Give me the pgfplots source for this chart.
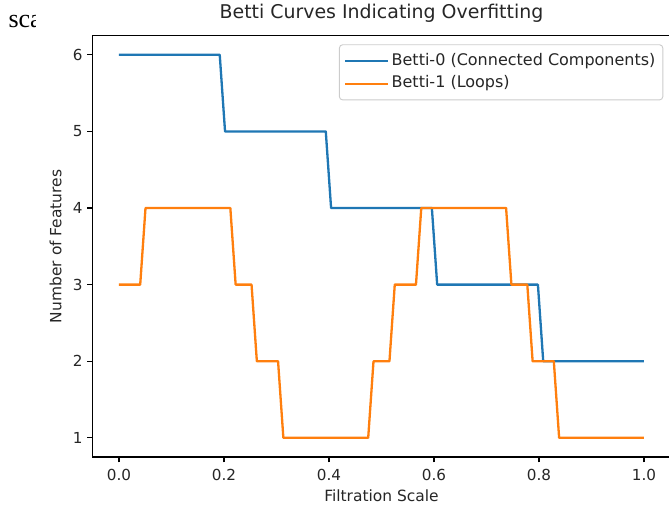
\documentclass[border=0pt]{standalone}
\usepackage{pgfplots}
\pgfplotsset{compat=1.18}
\usepackage{fontspec}
\setmainfont{DejaVu Sans}
\newfontfamily\timesfont{Liberation Serif}
\definecolor{mplblue}{HTML}{1F77B4}
\definecolor{mplorange}{HTML}{FF7F0E}
\definecolor{mpltext}{HTML}{262626}

\begin{document}
\begin{tikzpicture}
% leftover of a cropped caption in the top left corner
\begin{scope}
  \clip (0pt,340pt) rectangle (26.25pt,380.25pt);
  \node[anchor=base west, inner sep=0pt, font=\timesfont\fontsize{19.5}{23}\selectfont] at (6.2pt,359.8pt) {sca};
\end{scope}

\begin{axis}[
    at={(69.56pt,37.5pt)}, anchor=south west,
    scale only axis,
    width=433.1pt, height=316pt,
    xmin=-0.05, xmax=1.05,
    ymin=0.75, ymax=6.25,
    xtick={0,0.2,0.4,0.6,0.8,1.0},
    ytick={1,2,3,4,5,6},
    xticklabel style={/pgf/number format/fixed, /pgf/number format/fixed zerofill, /pgf/number format/precision=1,
        anchor=north, inner sep=0pt, text height=8.3pt, text depth=0pt},
    yticklabel style={anchor=east, inner sep=0pt, text height=8.3pt, text depth=0pt},
    /pgf/number format/assume math mode=true,
    tick align=outside,
    major tick length=4.05pt,
    xticklabel shift=5.2pt,
    yticklabel shift=3.45pt,
    tick style={black, line width=0.93pt},
    axis line style={black, line width=0.93pt},
    xtick pos=bottom, ytick pos=left,
    ticklabel style={font=\fontsize{11.4}{13.5}\selectfont, text=mpltext},
    label style={font=\fontsize{11.6}{13.5}\selectfont, text=mpltext},
    title style={font=\fontsize{14.2}{16.5}\selectfont, text=mpltext,
        at={(axis description cs:0.5,1.0221)}, anchor=base, inner sep=0pt},
    xlabel style={at={(axis description cs:0.5,-0.1068)}, anchor=base, inner sep=0pt},
    ylabel style={at={(axis description cs:-0.0641,0.5)}, anchor=center, inner sep=0pt},
    title={Betti Curves Indicating Overfitting},
    xlabel={Filtration Scale},
    ylabel={Number of Features},
    legend style={at={(0.988,0.9796)}, anchor=north east,
        draw=black!20, rounded corners=2.5pt, line width=0.7pt,
        font=\fontsize{12}{14}\selectfont, text=mpltext,
        row sep=2.6pt, inner xsep=3.5pt, inner ysep=5pt,
        nodes={text height=9pt, text depth=2.6pt, inner ysep=1.4pt}},
    legend cell align=left,
    legend image code/.code={\draw[#1] (0pt,0pt) -- (26pt,0pt); \path (0pt,0pt) -- (32pt,0pt);},
]

\addplot[color=mplblue, line width=1.73pt, line join=round] coordinates {
    (0,6) (0.1919,6) (0.2020,5) (0.3939,5) (0.4040,4) (0.5960,4)
    (0.6061,3) (0.7980,3) (0.8081,2) (1,2)
};
\addlegendentry{Betti-0 (Connected Components)}

\addplot[color=mplorange, line width=1.73pt, line join=round] coordinates {
    (0,3) (0.0404,3) (0.0505,4) (0.2121,4) (0.2222,3) (0.2525,3)
    (0.2626,2) (0.3030,2) (0.3131,1) (0.4747,1) (0.4848,2) (0.5152,2)
    (0.5253,3) (0.5657,3) (0.5758,4) (0.7374,4) (0.7475,3) (0.7778,3)
    (0.7879,2) (0.8283,2) (0.8384,1) (1,1)
};
\addlegendentry{Betti-1 (Loops)}

\end{axis}
\pgfresetboundingbox
\useasboundingbox (0pt,0pt) rectangle (501.75pt,380.25pt);
\end{tikzpicture}
\end{document}
